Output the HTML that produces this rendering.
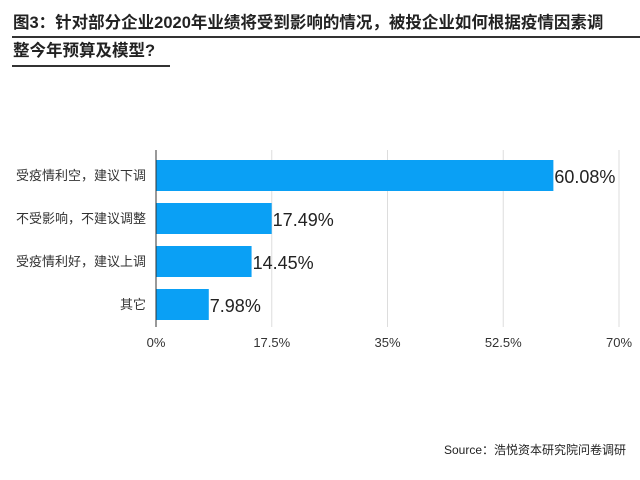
<!DOCTYPE html>
<html><head><meta charset="utf-8"><style>
body{margin:0;background:#fff;width:640px;height:480px;overflow:hidden;font-family:"Liberation Sans","Noto Sans CJK SC",sans-serif}
.t{position:absolute;left:13px;font-size:16.5px;font-weight:bold;color:#222;white-space:nowrap;line-height:20px}
</style></head><body>
<div class="t" style="top:13px">图3：针对部分企业2020年业绩将受到影响的情况，被投企业如何根据疫情因素调</div>
<div style="position:absolute;left:12px;top:36px;width:628px;height:2px;background:#333"></div>
<div class="t" style="top:41px">整今年预算及模型?</div>
<div style="position:absolute;left:12px;top:65px;width:158px;height:2px;background:#333"></div>
<svg id="c" width="640" height="480" style="position:absolute;left:0;top:0"></svg>
<div style="position:absolute;right:14px;top:441px;font-size:12px;color:#222">Source：浩悦资本研究院问卷调研</div>
<script>
const categories=["受疫情利空，建议下调","不受影响，不建议调整","受疫情利好，建议上调","其它"];
const values=[60.08,17.49,14.45,7.98];
const valueLabels=["60.08%","17.49%","14.45%","7.98%"];
const ticks=[0,17.5,35,52.5,70];
const tickLabels=["0%","17.5%","35%","52.5%","70%"];
const svg=document.getElementById('c');const NS='http://www.w3.org/2000/svg';
const x0=156,x1=619,xMax=70;
const X=v=>x0+v/xMax*(x1-x0);
const Y=i=>160+i*43;
function mk(t,a){const e=document.createElementNS(NS,t);for(const k in a)e.setAttribute(k,a[k]);svg.appendChild(e);return e;}
ticks.forEach((t,i)=>{
 if(i>0){const g=mk('line',{x1:X(t),x2:X(t),y1:150,y2:327,stroke:'#ddd','stroke-width':1});
 
 }
 const l=mk('text',{x:X(t),y:347,'text-anchor':'middle','font-size':13,fill:'#333'});l.textContent=tickLabels[i];
 
 
});
categories.forEach((c,i)=>{
 const r=mk('rect',{x:x0,y:Y(i),width:X(values[i])-x0,height:31,fill:'#0aa0f5'});
 
 
 const l=mk('text',{x:146,y:Y(i)+20,'text-anchor':'end','font-size':13,fill:'#333'});l.textContent=c;
 
 
 const v=mk('text',{x:X(values[i])+1,y:Y(i)+23,'font-size':18,fill:'#222'});v.textContent=valueLabels[i];
 
 
});
const a=mk('line',{x1:x0,x2:x0,y1:150,y2:327,stroke:'#333','stroke-width':1});


</script>
</body></html>
